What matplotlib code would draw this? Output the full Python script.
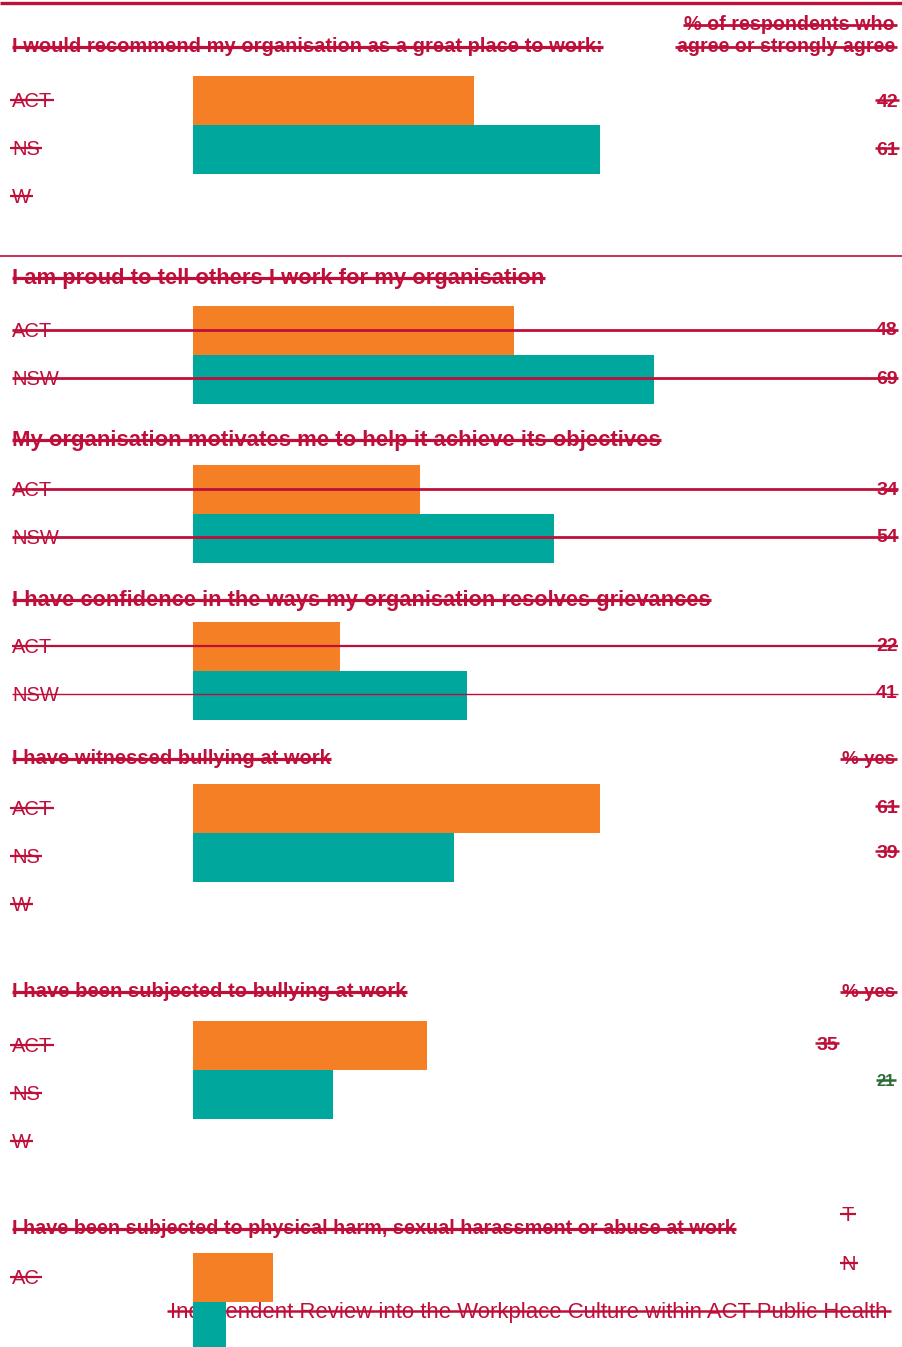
import matplotlib
matplotlib.use("Agg")
import matplotlib.pyplot as plt
from matplotlib.transforms import Affine2D
from matplotlib.lines import Line2D

# ---------------- data ----------------
questions = [
    "I would recommend my organisation as a great place to work:",
    "I am proud to tell others I work for my organisation",
    "My organisation motivates me to help it achieve its objectives",
    "I have confidence in the ways my organisation resolves grievances",
    "I have witnessed bullying at work",
    "I have been subjected to bullying at work",
    "I have been subjected to physical harm, sexual harassment or abuse at work",
]
act_values = [42, 48, 34, 22, 61, 35, 12]
nsw_values = [61, 69, 54, 41, 39, 21, 5]
act_value_labels = ["42", "48", "34", "22", "61", "35"]
nsw_value_labels = ["61", "69", "54", "41", "39", "21"]
act_row_labels = ["ACT", "ACT", "ACT", "ACT", "ACT", "ACT", "AC"]
nsw_row_labels = ["NS", "NSW", "NSW", "NSW", "NS", "NS"]
extra_row_labels = ["W", None, None, None, "W", "W"]
column_headers = ["% of respondents who\nagree or strongly agree", "% yes", "% yes"]
footer = "Independent Review into the Workplace Culture within ACT Public Health"

# ---------------- layout ----------------
W, H = 902, 1347
RED = "#BE0F3A"
ORANGE = "#F47F24"
TEAL = "#00A79D"
GREEN = "#2E6B35"

fig = plt.figure(figsize=(W / 100, H / 100), dpi=100)
fig.patch.set_facecolor("white")
ax = fig.add_axes([0, 0, 1, 1])
PX_PER_PCT = 6.68
X0 = 193
ax.set_xlim(-X0 / PX_PER_PCT, (W - X0) / PX_PER_PCT)
ax.set_ylim(H, 0)
ax.axis("off")

P = Affine2D().scale(1 / W, -1 / H).translate(0, 1) + fig.transFigure
renderer = fig.canvas.get_renderer()

strikes = []  # (text, y, ext, lw, color, zorder)


def put(x, yc, s, size=13, weight="normal", ha="left", width=None,
        color=RED, strike=True, frac=0.34, ext=1.5, lw=1.8, z=5):
    t = ax.text(x, yc, s, transform=P, fontsize=size, fontweight=weight,
                ha=ha, va="baseline", color=color, zorder=z,
                family=["Liberation Sans", "DejaVu Sans"])
    if width is not None:
        w = t.get_window_extent(renderer).width
        size = size * width / w
        t.set_fontsize(size)
    t.set_position((x, yc + frac * size * 100 / 72))
    if strike:
        strikes.append((t, yc, ext, lw, color, z))
    return t


def hline(x0, x1, y, lw, color=RED, z=4, alpha=1.0):
    ax.add_line(Line2D([x0, x1], [y, y], transform=P, color=color, lw=lw,
                       zorder=z, alpha=alpha, solid_capstyle="butt"))


# top rule and separator
hline(0, W, 3, 2.4)
hline(0, W, 256, 1.2)

# per-panel geometry (pixels)
title_y = [47, 278, 440, 600, 759, 992, 1229]
title_w = [591, 530, 646, 696, 318, 393, 723]
bar_top = [76, 306, 465, 622, 784, 1021, 1253]
BAR_H = 49
row_gap = 48
LABEL_SIZE = 14.5

for i, q in enumerate(questions):
    put(12, title_y[i], q, size=13, weight="bold", width=title_w[i],
        frac=0.27, ext=0.5, lw=2.3)
    top = bar_top[i]
    ax.barh(top + BAR_H / 2, act_values[i], left=0, height=BAR_H,
            color=ORANGE, zorder=2, linewidth=0)
    ax.barh(top + BAR_H * 1.5, nsw_values[i], left=0, height=BAR_H,
            color=TEAL, zorder=2, linewidth=0)

    y_act = top + 24
    y_nsw = y_act + row_gap
    long = i in (1, 2, 3)
    put(12, y_act, act_row_labels[i], size=LABEL_SIZE, strike=not long, ext=2, lw=1.6)
    if i < len(nsw_row_labels):
        put(12, y_nsw, nsw_row_labels[i], size=LABEL_SIZE, strike=not long, ext=2, lw=1.6)
        if extra_row_labels[i]:
            put(12, y_nsw + row_gap, extra_row_labels[i], size=LABEL_SIZE, ext=2, lw=1.6)
    if long:
        hline(12, 898, y_act, 2.0 if i < 3 else 1.6)
        hline(12, 898, y_nsw, 2.0 if i < 3 else 1.0)

# value labels
val_pos_act = [(898, 100), (898, 328), (898, 488), (898, 644), (898, 806), (838, 1043)]
val_pos_nsw = [(898, 148), (898, 377), (898, 535), (898, 691), (898, 851), (895, 1080)]
for i in range(len(act_value_labels)):
    long = i in (1, 2, 3)
    x, y = val_pos_act[i]
    put(x, y, act_value_labels[i], size=14, weight="bold", ha="right",
        strike=not long, ext=1, lw=1.8)
    x, y = val_pos_nsw[i]
    col = GREEN if i == 5 else RED
    put(x, y, nsw_value_labels[i], size=12 if i == 5 else 14, weight="bold",
        ha="right", strike=not long, ext=1, lw=1.8, color=col)

# column headers
h1, h2 = column_headers[0].split("\n")
put(895, 25, h1, size=12, weight="bold", ha="right", width=210, frac=0.27, lw=2.0)
put(895, 47, h2, size=12, weight="bold", ha="right", width=217, frac=0.27, lw=2.0)
put(895, 759, column_headers[1], size=12, weight="bold", ha="right",
    width=53, frac=0.27, lw=2.0)
put(895, 992, column_headers[2], size=12, weight="bold", ha="right",
    width=53, frac=0.27, lw=2.0)

# truncated legend letters in last panel
put(848, 1214, "T", size=LABEL_SIZE, ha="center", ext=2, lw=1.6)
put(849, 1263, "N", size=LABEL_SIZE, ha="center", ext=2, lw=1.6)

# footer (sits beneath the teal bar)
put(170, 1311, footer, size=14, width=718, ext=3, lw=1.8, z=1, frac=0.3)

fig.canvas.draw()
for t, y, ext, lw, col, z in strikes:
    bb = t.get_window_extent(renderer)
    hline(bb.x0 - ext, bb.x1 + ext, y, lw, color=col, z=z + 0.1)

fig.savefig("out.png", dpi=100, facecolor="white")
